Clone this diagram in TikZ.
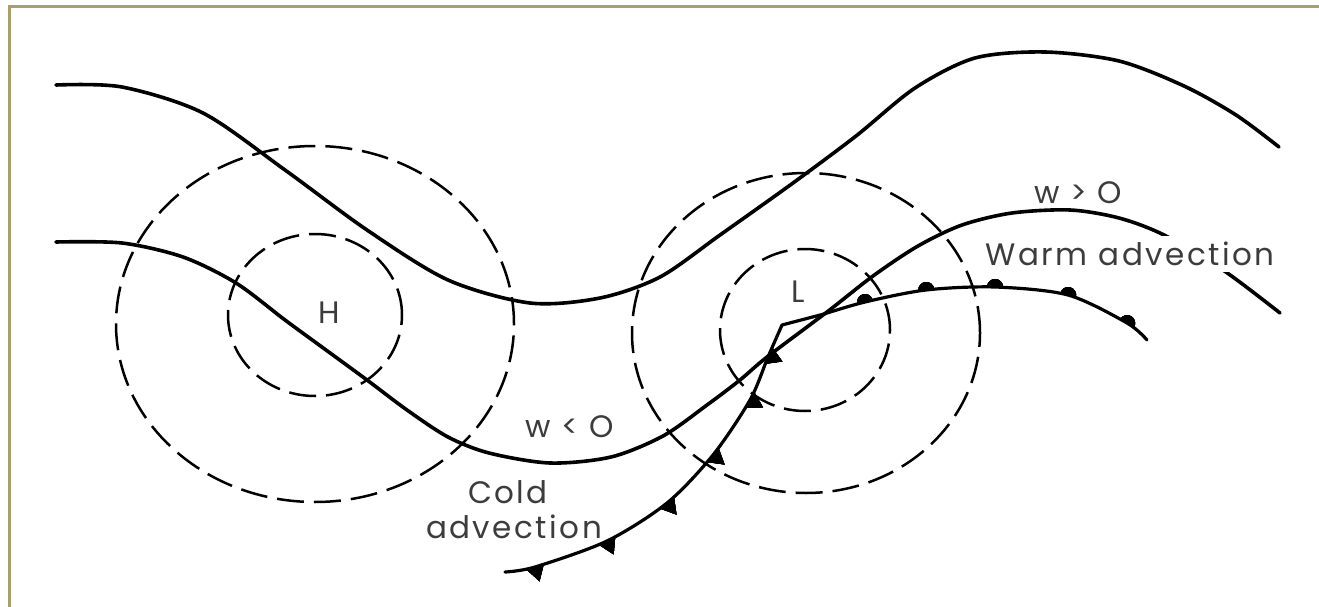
\documentclass[tikz,border=0pt]{standalone}
\usepackage{fontspec}
\setmainfont{Poppins}[LetterSpace=8]
\usetikzlibrary{decorations.markings}
\definecolor{frameolive}{RGB}{170,158,108}
\definecolor{inkgray}{RGB}{60,60,60}
\begin{document}
\begin{tikzpicture}[x=1pt,y=-1pt,
  contour/.style={line width=3.6pt, line cap=round, line join=round},
  isobar/.style={line width=2.5pt, dash pattern=on 27pt off 10pt},
  frontline/.style={line width=3.2pt, line cap=round, line join=round},
  lbl/.style={font=\fontsize{31}{31}\selectfont, text=inkgray, inner sep=0pt},
  tri/.style={decoration={markings, mark=at position #1 with {\fill (-9pt,0pt) -- (9pt,0pt) -- (0pt,-15pt) -- cycle;}}, postaction={decorate}},
  bump/.style={decoration={markings, mark=at position #1 with {\fill (-8pt,0pt) arc[start angle=180, end angle=0, radius=8pt] -- cycle;}}, postaction={decorate}},
]
\useasboundingbox (0,0) rectangle (1319,607);
\fill[white] (0,0) rectangle (1319,607);
% frame
\draw[frameolive, line width=3pt] (8,6.5) -- (1319,6.5);
\draw[frameolive, line width=3pt] (9.5,5) -- (9.5,607);

% isobars (dashed)
\draw[isobar] (315,324) ellipse [x radius=199pt, y radius=178pt];
\draw[isobar] (315,315) ellipse [x radius=87pt, y radius=81pt];
\draw[isobar] (806,333) ellipse [x radius=174pt, y radius=160pt];
\draw[isobar] (805,330) ellipse [x radius=85pt, y radius=81pt];

% upper contour
\draw[contour] plot[smooth] coordinates {(56,85) (122,87) (203,113) (285,170) (367,230) (448,280) (530,303) (600,298) (660,277) (720,235) (793,183) (856,136) (915,88) (975,58) (1045,52) (1119,61) (1184,86) (1236,115) (1279,147)};

% lower contour
\draw[contour] plot[smooth] coordinates {(56,242) (122,243) (183,257) (236,283) (285,320) (326,350) (367,380) (407,410) (448,437) (489,453) (550,463) (611,457) (663,436) (707,405) (740,380) (767,357) (827,312) (873,276) (918,246) (962,225) (1012,213) (1070,210) (1119,218) (1164,235) (1223,270) (1280,313)};

% cold front
\draw[frontline, tri=0.078, tri=0.273, tri=0.454, tri=0.623, tri=0.792, tri=0.915] plot[smooth] coordinates {(505,572) (535,567) (607,541) (667,503) (713,455) (750,400) (768,357) (782,325)};
\coordinate (kink) at (782,325);
\coordinate (wstart) at (824,314);
\draw[frontline] (kink) -- (wstart);
% warm front
\draw[frontline, bump=0.126, bump=0.31, bump=0.513, bump=0.73, bump=0.923] plot[smooth] coordinates {(824,314) (865,302) (926,290) (995,287) (1068,295) (1127,323) (1147,340)};

% labels
\node[lbl] (H) at (329,313) {H};
\node[lbl] (L) at (798,292) {L};
\node[lbl] (wlt) at (570,427) {w < O};
\node[lbl] (cold1) at (508,492) {Cold};
\node[lbl] (cold2) at (514,527) {advection};
\node[lbl] (wgt) at (1078,193) {w > O};
\node[lbl, fill=white, inner xsep=2pt, inner ysep=6pt] (warm) at (1130,254) {Warm advection};
\end{tikzpicture}
\end{document}
